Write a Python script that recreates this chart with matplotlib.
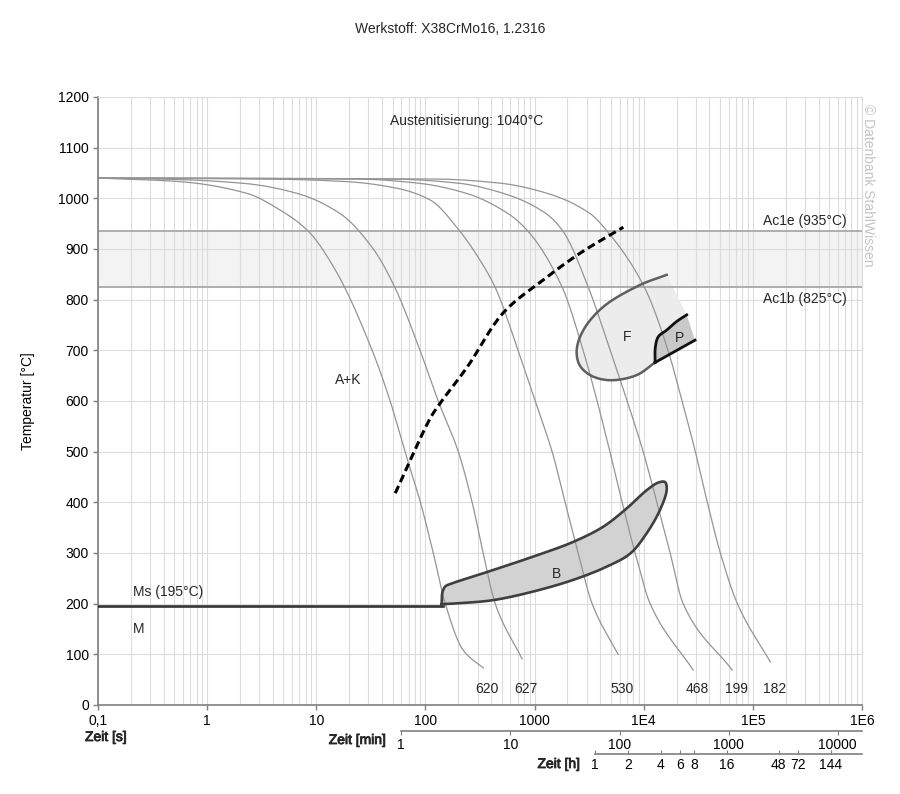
import numpy as np
import matplotlib
matplotlib.use("Agg")
import matplotlib.pyplot as plt
import matplotlib.patheffects as pe
from matplotlib.ticker import FixedLocator, LogLocator, NullFormatter

plt.rcParams['font.family'] = ['Liberation Sans', 'DejaVu Sans']
plt.rcParams['text.color'] = '#262626'

# --- Daten (Zeit in s, Temperatur in °C) ---
austenit_T = 1040
ac1e_T = 935
ac1b_T = 825
ms_T = 195
ms_end_t = 146

# Abkuehlkurven mit Haerte (HV) am Ende
hardness = [620, 627, 530, 468, 199, 182]
c1_t = [0.1, 0.56, 2.30, 4.65, 8.45, 15.0, 32.5, 47.5, 65, 90, 118, 152, 222, 339]
c1_T = [1040, 1033, 1010, 977, 935, 858, 700, 600, 500, 400, 300, 200, 108, 73]
c2_t = [0.1, 0.56, 2.30, 6.62, 16.5, 33.3, 52, 89.2, 131, 200, 268, 338, 436, 768]
c2_T = [1040, 1037, 1029, 1010, 970, 900, 826, 700, 600, 500, 400, 300, 200, 91]
c3_t = [0.1, 3.79, 19.0, 54.6, 110, 207, 316, 434, 706, 1011, 1448, 1905, 2506, 3366, 5834]
c3_T = [1040, 1038, 1033, 1020, 997, 935, 878, 825, 700, 600, 500, 400, 300, 200, 100]
c4_t = [0.1, 24.3, 85.5, 236, 571, 871, 1786, 2786, 3741, 4900, 6345, 8343, 11450, 28380]
c4_T = [1040, 1038, 1030, 1010, 970, 935, 825, 700, 600, 500, 400, 300, 200, 69]
c5_t = [0.1, 50.9, 199, 514, 1273, 1821, 3100, 4930, 7050, 9887, 13200, 17470, 22970, 64570]
c5_T = [1040, 1038, 1030, 1010, 970, 935, 825, 700, 600, 500, 400, 300, 200, 69]
c6_t = [0.1, 128, 482, 1300, 3221, 4634, 10120, 16700, 22440, 29720, 38280, 50350, 72100, 144500]
c6_T = [1040, 1038, 1030, 1010, 970, 935, 825, 700, 600, 500, 400, 300, 200, 85]

# Karbidausscheidung (gestrichelt)
carb_t = [52.9, 68.1, 110.7, 136.7, 241.5, 516, 1202, 2624, 6500]
carb_T = [418, 470, 566, 596, 667, 774, 839, 892, 943]

# Bainit-Gebiet
bain_t = [141, 143, 152, 175, 339, 975, 2266, 4265, 6985, 10650, 13610, 15670, 16250,
          14100, 10650, 7530, 4580, 2266, 975, 419, 207, 141]
bain_T = [200, 222, 234, 240, 260, 293, 322, 352, 388, 424, 439, 440, 425,
          385, 339, 299, 273, 247, 224, 207, 201, 199]

# Ferrit-Beginn
ferr_t = [16250, 9250, 4265, 2800, 2430, 2600, 3300, 4900, 8600, 12700]
ferr_T = [849, 829, 786, 740, 700, 670, 650, 641, 651, 676]

# Perlit-Beginn (links/oben) und Ende (unten)
perl_t = [12700, 12800, 13620, 16250, 20060, 24770]
perl_T = [676, 707, 727, 740, 757, 770]
perl_end_t = [12700, 29510]
perl_end_T = [676, 720]

xtick_vals = [0.1, 1, 10, 100, 1000, 1e4, 1e5, 1e6]
xtick_labels = ['0,1', '1', '10', '100', '1000', '1E4', '1E5', '1E6']
min_ticks = [1, 10, 100, 1000, 10000]
hour_ticks = [1, 2, 4, 6, 8, 16, 48, 72, 144]


def smooth(t, T, n=16):
    # zentripetaler Catmull-Rom im Bildmassstab (log t, T)
    P = np.column_stack([np.log10(t) * 109.1, np.asarray(T) * 0.507]).astype(float)
    P = np.vstack([2 * P[0] - P[1], P, 2 * P[-1] - P[-2]])
    out = []
    for i in range(1, len(P) - 2):
        p0, p1, p2, p3 = P[i - 1], P[i], P[i + 1], P[i + 2]
        t0 = 0.0
        t1 = t0 + max(np.linalg.norm(p1 - p0), 1e-6) ** 0.5
        t2 = t1 + max(np.linalg.norm(p2 - p1), 1e-6) ** 0.5
        t3 = t2 + max(np.linalg.norm(p3 - p2), 1e-6) ** 0.5
        u = np.linspace(t1, t2, n, endpoint=False)[:, None]
        a1 = (t1 - u) / (t1 - t0) * p0 + (u - t0) / (t1 - t0) * p1
        a2 = (t2 - u) / (t2 - t1) * p1 + (u - t1) / (t2 - t1) * p2
        a3 = (t3 - u) / (t3 - t2) * p2 + (u - t2) / (t3 - t2) * p3
        b1 = (t2 - u) / (t2 - t0) * a1 + (u - t0) / (t2 - t0) * a2
        b2 = (t3 - u) / (t3 - t1) * a2 + (u - t1) / (t3 - t1) * a3
        out.append((t2 - u) / (t2 - t1) * b1 + (u - t1) / (t2 - t1) * b2)
    out.append(P[-2][None])
    q = np.vstack(out)
    return 10 ** (q[:, 0] / 109.1), q[:, 1] / 0.507


def pchip(t, T, n=400):
    # monotone kubische Interpolation von T ueber log t
    x = np.log10(t)
    y = np.asarray(T, dtype=float)
    h = np.diff(x)
    d = np.diff(y) / h
    m = np.zeros_like(y)
    for k in range(1, len(y) - 1):
        if d[k - 1] * d[k] > 0:
            w1 = 2 * h[k] + h[k - 1]
            w2 = h[k] + 2 * h[k - 1]
            m[k] = (w1 + w2) / (w1 / d[k - 1] + w2 / d[k])
    m[0] = d[0]
    m[-1] = d[-1]
    xs = np.linspace(x[0], x[-1], n)
    k = np.clip(np.searchsorted(x, xs) - 1, 0, len(x) - 2)
    s = (xs - x[k]) / h[k]
    h00 = 2 * s ** 3 - 3 * s ** 2 + 1
    h10 = s ** 3 - 2 * s ** 2 + s
    h01 = -2 * s ** 3 + 3 * s ** 2
    h11 = s ** 3 - s ** 2
    ys = h00 * y[k] + h10 * h[k] * m[k] + h01 * y[k + 1] + h11 * h[k] * m[k + 1]
    return 10 ** xs, ys


fig = plt.figure(figsize=(9, 7.94), dpi=100)
ax = fig.add_axes([98 / 900, 89 / 794, 764 / 900, 608 / 794])
ax.set_xscale('log')
ax.set_xlim(0.1, 1e6)
ax.set_ylim(0, 1200)
ax.set_axisbelow(True)

grid_c = '#dcdcdc'
ax.xaxis.set_major_locator(FixedLocator(xtick_vals))
ax.set_xticklabels(xtick_labels)
ax.xaxis.set_minor_locator(LogLocator(base=10, subs=np.arange(2, 10), numticks=50))
ax.xaxis.set_minor_formatter(NullFormatter())
ax.set_yticks(np.arange(0, 1201, 100))
ax.grid(which='both', axis='x', color=grid_c, lw=0.8)
ax.grid(which='major', axis='y', color=grid_c, lw=0.8)
ax.tick_params(which='minor', length=0)
ax.tick_params(which='major', length=3.5, width=1, color='#7f7f7f', labelsize=10, pad=3)
for side in ['left', 'bottom']:
    ax.spines[side].set_color('#7f7f7f')
    ax.spines[side].set_linewidth(1.2)
for side in ['top', 'right']:
    ax.spines[side].set_color(grid_c)
    ax.spines[side].set_linewidth(0.8)

# Ac1-Band
ax.axhspan(ac1b_T, ac1e_T, color='#f3f3f3', zorder=0.2, lw=0)
ax.axhline(ac1e_T, color='#a8a8a8', lw=1.3, zorder=1.5)
ax.axhline(ac1b_T, color='#a8a8a8', lw=1.3, zorder=1.5)

# Flaechen
fx, fy = smooth(ferr_t, ferr_T)
px, py = smooth(perl_t, perl_T, n=10)
ax.fill(np.concatenate([fx, px]), np.concatenate([fy, py]), color='#ececec', lw=0, zorder=1)
ax.fill(np.concatenate([px, perl_end_t[::-1]]), np.concatenate([py, perl_end_T[::-1]]),
        color='#c9c9c9', lw=0, zorder=1.1)
bx, by = smooth(bain_t, bain_T)
ax.fill(bx, by, color='#d2d2d2', lw=0, zorder=1)

# Abkuehlkurven
curves = [(c1_t, c1_T), (c2_t, c2_T), (c3_t, c3_T), (c4_t, c4_T), (c5_t, c5_T), (c6_t, c6_T)]
for (ct, cT), hv in zip(curves, hardness):
    sx, sy = pchip(ct, cT)
    ax.plot(sx, sy, color='#949494', lw=0.9, zorder=2)
    ax.text(ct[-1] * 1.09, 32, str(hv), ha='center', va='center', fontsize=10)

# Umwandlungslinien
ax.plot(bx, by, color='#3f3f3f', lw=1.9, zorder=3, solid_joinstyle='round')
ax.plot(fx, fy, color='#5f5f5f', lw=1.8, zorder=3)
ax.plot(px, py, color='#111111', lw=2.0, zorder=3.2)
ax.plot(perl_end_t, perl_end_T, color='#111111', lw=2.0, zorder=3.2)
ax.plot([0.1, ms_end_t], [ms_T, ms_T], color='#333333', lw=1.9, zorder=3)
cx, cy = smooth(carb_t, carb_T)
ax.plot(cx, cy, color='black', lw=2.2, ls=(0, (2.6, 1.4)), zorder=3.5)

# Beschriftungen
ax.text(240, 1152, 'Austenitisierung: 1040°C', ha='center', va='center', fontsize=10)
ax.text(7.3e5, 955, 'Ac1e (935°C)', ha='right', va='center', fontsize=10)
ax.text(7.3e5, 801, 'Ac1b (825°C)', ha='right', va='center', fontsize=10)
ax.text(7050, 726, 'F', ha='center', va='center', fontsize=10)
ax.text(21100, 724, 'P', ha='center', va='center', fontsize=10)
ax.text(1574, 258, 'B', ha='center', va='center', fontsize=10)
ax.text(19.5, 641, 'A+K', ha='center', va='center', fontsize=10)
ax.text(0.209, 223, 'Ms (195°C)', ha='left', va='center', fontsize=10)
ax.text(0.209, 150, 'M', ha='left', va='center', fontsize=10)

ax.set_ylabel('Temperatur [°C]', fontsize=10)
ax.yaxis.set_label_coords(-0.083, 0.5)

# Nebenachsen Minuten / Stunden
sec_min = ax.secondary_xaxis(-26 / 608, functions=(lambda s: s / 60, lambda m: m * 60))
sec_min.set_xticks(min_ticks, labels=[str(v) for v in min_ticks])
sec_min.spines['bottom'].set_bounds(1, 1e6 / 60)
sec_min.spines['bottom'].set_color('#7f7f7f')
sec_min.spines['bottom'].set_linewidth(1.2)
sec_min.tick_params(which='major', direction='out', length=3, color='#7f7f7f', labelsize=10, pad=2)
sec_min.tick_params(which='minor', bottom=False, labelbottom=False)

sec_h = ax.secondary_xaxis(-49 / 608, functions=(lambda s: s / 3600, lambda h: h * 3600))
sec_h.set_xticks(hour_ticks, labels=[str(v) for v in hour_ticks])
sec_h.spines['bottom'].set_bounds(1, 1e6 / 3600)
sec_h.spines['bottom'].set_color('#7f7f7f')
sec_h.spines['bottom'].set_linewidth(1.2)
sec_h.tick_params(which='major', direction='in', length=3, color='#7f7f7f', labelsize=10, pad=3)
sec_h.tick_params(which='minor', bottom=False, labelbottom=False)

thick = [pe.withStroke(linewidth=0.6, foreground='#262626')]
fig.text(85 / 900, 1 - 737 / 794, 'Zeit [s]', ha='left', va='center', fontsize=10, path_effects=thick)
fig.text(386 / 900, 1 - 740 / 794, 'Zeit [min]', ha='right', va='center', fontsize=10, path_effects=thick)
fig.text(580 / 900, 1 - 764 / 794, 'Zeit [h]', ha='right', va='center', fontsize=10, path_effects=thick)

fig.text(0.5, 1 - 29 / 794, 'Werkstoff: X38CrMo16, 1.2316', ha='center', va='center', fontsize=10)
fig.text(868 / 900, 1 - 185 / 794, '© Datenbank StahlWissen', rotation=270, ha='center', va='center',
         fontsize=10, color='#c4c4c4')

fig.savefig('out.png', dpi=100)
